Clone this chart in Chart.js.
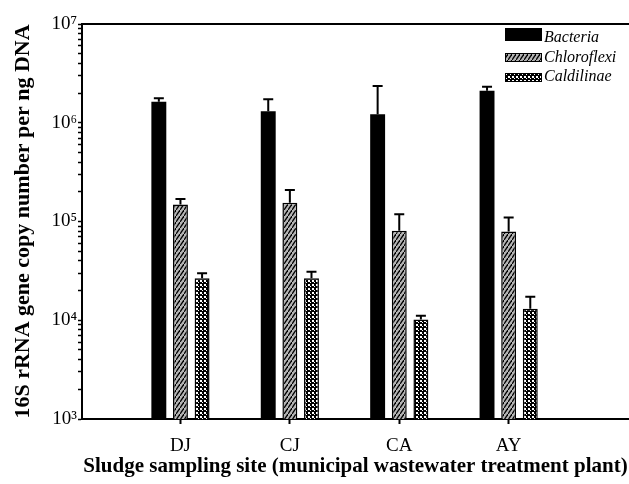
<!DOCTYPE html>
<html>
<head>
<meta charset="utf-8">
<script src="https://cdn.jsdelivr.net/npm/chart.js@4/dist/chart.umd.min.js"></script>
<style>
  html, body { margin: 0; padding: 0; background: #fff; }
  #chart { display: block; }
</style>
</head>
<body>
<canvas id="chart" width="629" height="484"></canvas>
<script>
// sampling sites and their positions on the x axis
const sites = ["DJ", "CJ", "CA", "AY"];
const sitePos = [1, 2, 3, 4];

// 16S rRNA gene copies per ng DNA (mean) and upper error
const bacteria = [1.63e6, 1.31e6, 1.22e6, 2.11e6];
const bacteriaErr = [0.14e6, 0.42e6, 1.13e6, 0.21e6];
const chloroflexi = [1.49e5, 1.55e5, 8.07e4, 7.9e4];
const chloroflexiErr = [0.2e5, 0.53e5, 0.38e5, 0.31e5];
const caldilinae = [2.66e4, 2.66e4, 1.02e4, 1.31e4];
const caldilinaeErr = [0.33e4, 0.44e4, 0.09e4, 0.42e4];

const yTickValues = [];
for (let e = 3; e < 7; e++) {
  for (let k = 1; k <= 9; k++) yTickValues.push(k * Math.pow(10, e));
}
yTickValues.push(1e7);

const sup = { "3": "\u00B3", "4": "\u2074", "5": "\u2075", "6": "\u2076", "7": "\u2077" };

function hatchPattern() {
  const c = document.createElement("canvas");
  c.width = 4; c.height = 6;
  const g = c.getContext("2d");
  g.fillStyle = "#b4b4b4";
  g.fillRect(0, 0, 4, 6);
  g.strokeStyle = "#000";
  g.lineWidth = 1.3;
  g.beginPath();
  g.moveTo(-1, 7.5); g.lineTo(5, -1.5);
  g.stroke();
  return g.createPattern(c, "repeat");
}

function crossPattern() {
  const c = document.createElement("canvas");
  c.width = 4; c.height = 4;
  const g = c.getContext("2d");
  g.fillStyle = "#000";
  g.fillRect(0, 0, 4, 4);
  g.fillStyle = "#fff";
  g.fillRect(0, 0, 2, 2);
  g.fillRect(2, 2, 1, 1);
  return g.createPattern(c, "repeat");
}

function points(vals) {
  return vals.map((v, i) => ({ x: sitePos[i], y: v }));
}

const errorBars = {
  id: "errorBars",
  afterDatasetsDraw(chart) {
    const ctx = chart.ctx;
    const yScale = chart.scales.y;
    ctx.save();
    ctx.strokeStyle = "#000";
    ctx.lineWidth = 2;
    chart.data.datasets.forEach((ds, di) => {
      const meta = chart.getDatasetMeta(di);
      meta.data.forEach((bar, i) => {
        const top = yScale.getPixelForValue(ds.data[i].y + ds.errors[i]);
        ctx.beginPath();
        ctx.moveTo(bar.x, bar.y);
        ctx.lineTo(bar.x, top);
        ctx.moveTo(bar.x - 5, top);
        ctx.lineTo(bar.x + 5, top);
        ctx.stroke();
      });
    });
    ctx.restore();
  }
};

const frame = {
  id: "frame",
  afterDraw(chart) {
    const ctx = chart.ctx;
    const a = chart.chartArea;
    ctx.save();
    ctx.strokeStyle = "#000";
    ctx.lineWidth = 2;
    ctx.beginPath();
    ctx.moveTo(a.left, a.top);
    ctx.lineTo(a.right, a.top);
    ctx.stroke();

    // legend
    const boxes = [[28, 13], [53, 9], [73, 9]];
    const textY = [38, 58, 77];
    ctx.font = "italic 16px 'Liberation Serif', serif";
    ctx.textBaseline = "middle";
    ctx.textAlign = "left";
    chart.data.datasets.forEach((ds, i) => {
      ctx.fillStyle = ds.backgroundColor;
      ctx.fillRect(505, boxes[i][0], 37, boxes[i][1]);
      ctx.lineWidth = 1;
      ctx.strokeStyle = "#000";
      ctx.strokeRect(505.5, boxes[i][0] + 0.5, 36, boxes[i][1] - 1);
      ctx.fillStyle = "#000";
      ctx.fillText(ds.label, 544, textY[i]);
    });
    ctx.restore();
  }
};

const ctx = document.getElementById("chart").getContext("2d");

new Chart(ctx, {
  type: "bar",
  data: {
    datasets: [
      {
        label: "Bacteria",
        data: points(bacteria),
        errors: bacteriaErr,
        backgroundColor: "#000",
        borderColor: "#000",
        borderWidth: 0
      },
      {
        label: "Chloroflexi",
        data: points(chloroflexi),
        errors: chloroflexiErr,
        backgroundColor: hatchPattern(),
        borderColor: "#000",
        borderWidth: 1.5
      },
      {
        label: "Caldilinae",
        data: points(caldilinae),
        errors: caldilinaeErr,
        backgroundColor: crossPattern(),
        borderColor: "#000",
        borderWidth: 1.5
      }
    ]
  },
  options: {
    responsive: false,
    animation: false,
    categoryPercentage: 0.593,
    barPercentage: 0.69,
    layout: { padding: { top: 24, right: 0, bottom: 0, left: 0 } },
    plugins: {
      legend: { display: false },
      tooltip: { enabled: false }
    },
    scales: {
      x: {
        type: "linear",
        min: 0.1,
        max: 5.1,
        offset: false,
        afterBuildTicks(scale) {
          scale.ticks = sitePos.map((v) => ({ value: v }));
        },
        afterFit(scale) { scale.height = 65; },
        ticks: {
          autoSkip: false,
          maxRotation: 0,
          padding: 11,
          color: "#000",
          font: { family: "'Liberation Serif', serif", size: 19 },
          callback: (v) => sites[v - 1]
        },
        grid: {
          offset: false,
          drawOnChartArea: false,
          tickLength: 5,
          tickWidth: 2,
          tickColor: "#000"
        },
        border: { color: "#000", width: 2 },
        title: {
          display: true,
          text: "Sludge sampling site (municipal wastewater treatment plant)",
          color: "#000",
          font: { family: "'Liberation Serif', serif", size: 21, weight: "bold" },
          padding: { top: 0, bottom: 5 }
        }
      },
      y: {
        type: "logarithmic",
        min: 1e3,
        max: 1e7,
        afterBuildTicks(scale) {
          scale.ticks = yTickValues.map((v) => ({ value: v }));
        },
        afterFit(scale) { scale.width = 82; },
        ticks: {
          autoSkip: false,
          padding: 1,
          color: "#000",
          font: { family: "'Liberation Serif', serif", size: 19 },
          callback: (v) => {
            const e = Math.log10(v);
            if (Math.abs(e - Math.round(e)) < 1e-9) return "10" + sup[String(Math.round(e))];
            return "";
          }
        },
        grid: {
          drawOnChartArea: false,
          tickLength: 4,
          tickWidth: 1.5,
          tickColor: "#000"
        },
        border: { color: "#000", width: 2 },
        title: {
          display: true,
          text: "16S rRNA gene copy number per ng DNA",
          color: "#000",
          font: { family: "'Liberation Serif', serif", size: 22, weight: "bold" },
          padding: { top: 10, bottom: 0 }
        }
      }
    }
  },
  plugins: [errorBars, frame]
});
</script>
</body>
</html>
